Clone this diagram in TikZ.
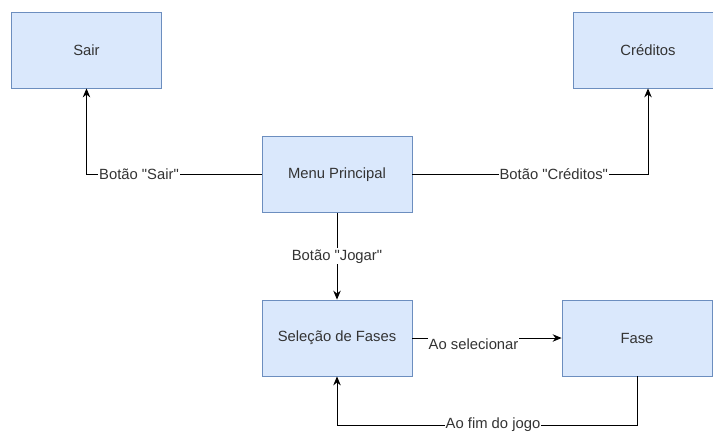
\documentclass[tikz,border=0pt]{standalone}
\usepackage{fontspec}
\setmainfont{Liberation Sans}
\usetikzlibrary{arrows.meta}
\definecolor{caixafundo}{HTML}{DAE8FC}
\definecolor{caixaborda}{HTML}{6C8EBF}
\definecolor{texto}{HTML}{333333}
\newcommand{\aspas}[1]{\textquotedbl#1\textquotedbl}

\begin{document}
\begin{tikzpicture}[%
      x=1pt, y=-1pt,
      estado/.style={draw=caixaborda, fill=caixafundo, line width=0.8pt,
        minimum width=150pt, minimum height=76pt, text=texto,
        font=\fontsize{14.8}{17}\selectfont},
      rotulo/.style={fill=white, text=texto, inner sep=1pt,
        font=\fontsize{14.8}{17}\selectfont},
      seta/.style={-{Stealth[length=9pt,width=7.5pt]}, line width=1pt},
      ]
      \useasboundingbox (0,0) rectangle (713,434);
      \clip (0,0) rectangle (713,434);

      \node [estado] (sair) at (86.5,50) {Sair};
      \node [estado] (creditos) at (648,50) {Créditos};
      \node [estado] (menu) at (337,174.5) {Menu Principal};
      \node [estado] (selecao) at (337,338) {Seleção de Fases};
      \node [estado] (fase) at (637,338) {Fase};

      \coordinate (fimfase) at (637,425);
      \coordinate (fimsel) at (337,425);

      \draw [seta] (menu.west) -| node[rotulo, pos=0.35] {Botão \aspas{Sair}} (sair.south);
      \draw [seta] (menu.east) -| node[rotulo, pos=0.3] {Botão \aspas{Créditos}} (creditos.south);
      \draw [seta] (menu.south) -- node[rotulo] {Botão \aspas{Jogar}} (selecao.north);
      \draw [seta] (selecao.east) -- node[rotulo, pos=0.41, yshift=-6pt] {Ao selecionar} (fase.west);
      \draw [seta] (fase.south) -- (fimfase) -- node[rotulo, pos=0.48] {Ao fim do jogo} (fimsel) -- (selecao.south);
\end{tikzpicture}
\end{document}
